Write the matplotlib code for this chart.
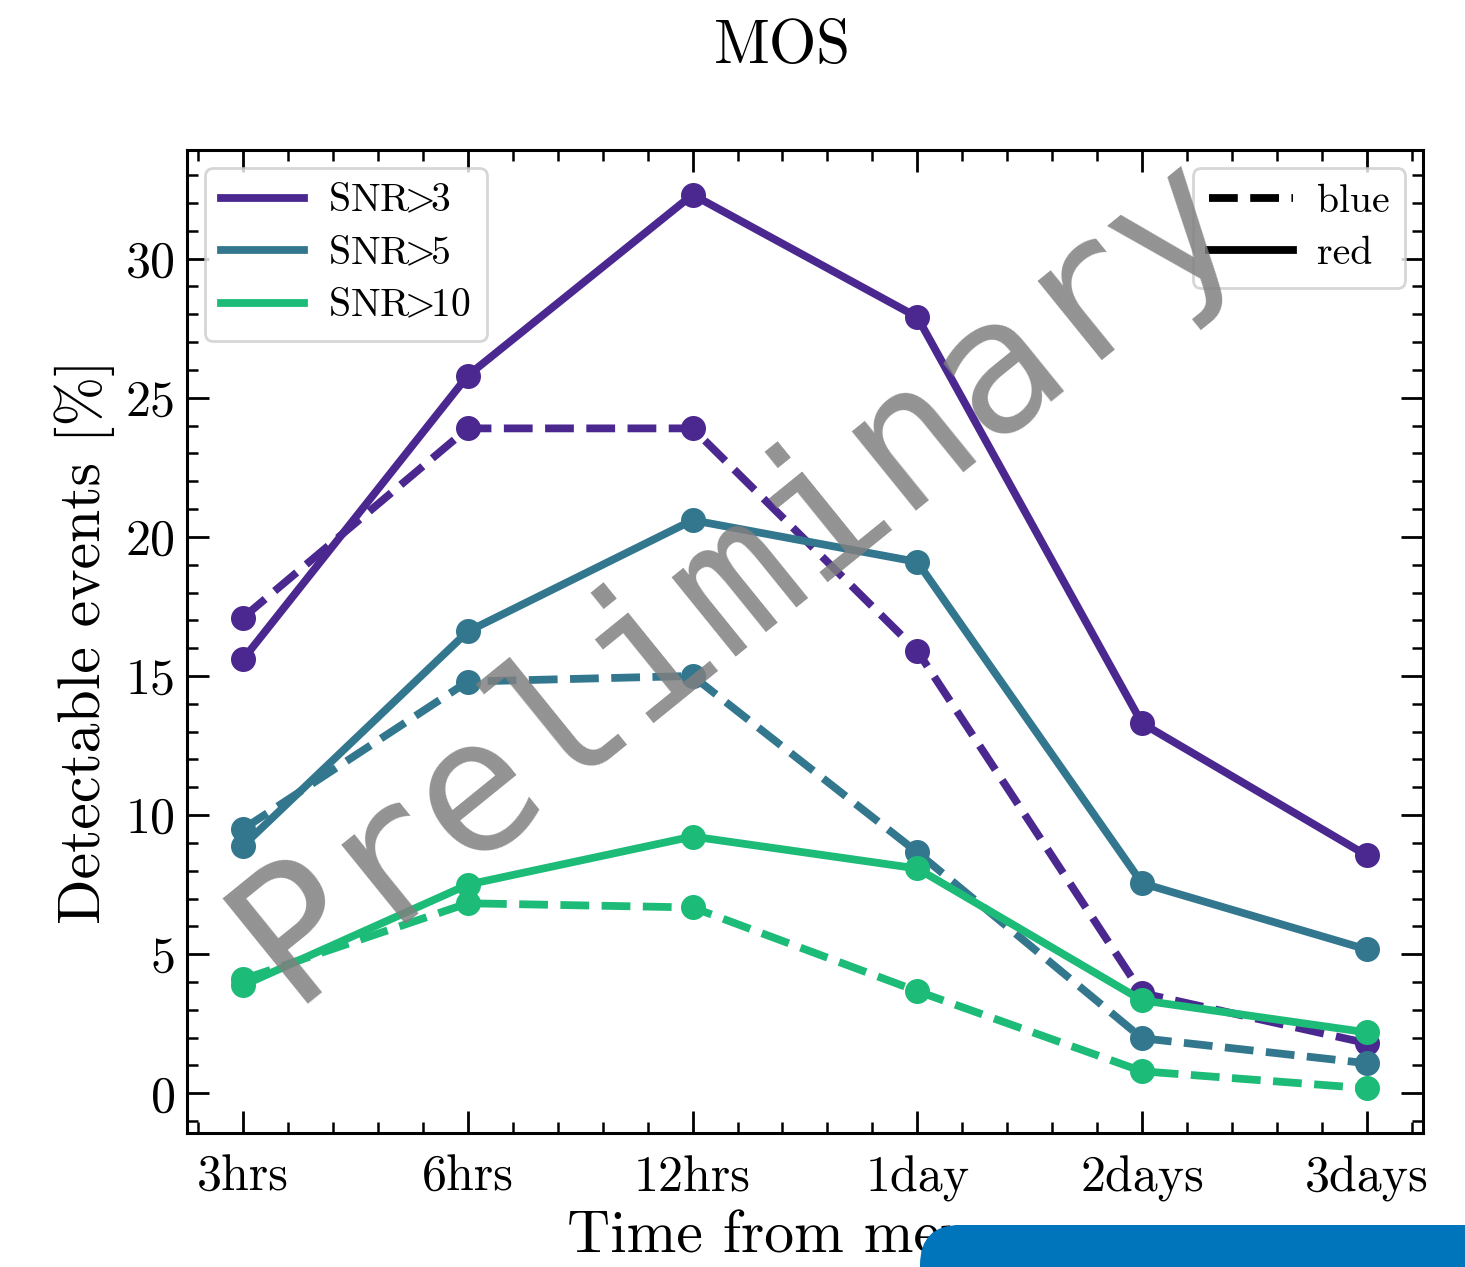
import numpy as np
import matplotlib
matplotlib.use("Agg")
import matplotlib.pyplot as plt
from matplotlib.ticker import MultipleLocator
from matplotlib.lines import Line2D
from matplotlib.patches import FancyBboxPatch

plt.rcParams['font.family'] = 'serif'
plt.rcParams['font.serif'] = ['cmr10']
plt.rcParams['mathtext.fontset'] = 'cm'
plt.rcParams['axes.unicode_minus'] = False

# --- data ---
times = ['3hrs', '6hrs', '12hrs', '1day', '2days', '3days']
snr_labels = [r'SNR$\!\!>\!\!$3', r'SNR$\!\!>\!\!$5', r'SNR$\!\!>\!\!$10']
colors = ['#4b2890', '#33778f', '#1dbb78']

red_snr3 = [15.6, 25.8, 32.3, 27.9, 13.3, 8.55]
red_snr5 = [8.9, 16.6, 20.6, 19.1, 7.55, 5.17]
red_snr10 = [3.88, 7.5, 9.23, 8.08, 3.34, 2.19]

blue_snr3 = [17.1, 23.9, 23.9, 15.9, 3.6, 1.8]
blue_snr5 = [9.5, 14.8, 15.0, 8.66, 1.98, 1.08]
blue_snr10 = [4.1, 6.83, 6.68, 3.67, 0.79, 0.18]

red = [red_snr3, red_snr5, red_snr10]
blue = [blue_snr3, blue_snr5, blue_snr10]

fig = plt.figure(figsize=(7.325, 6.335), dpi=200)
ax = fig.add_axes([0.1276, 0.1058, 0.8437, 0.7758])

x = np.arange(len(times))
lw = 2.8
ms = 8
for c, r, b in zip(colors, red, blue):
    ax.plot(x, b, '--', color=c, lw=lw, marker='o', ms=ms)
    ax.plot(x, r, '-', color=c, lw=lw, marker='o', ms=ms)

ax.set_xticks(x)
ax.set_xticklabels(times)
ax.xaxis.set_minor_locator(MultipleLocator(0.2))
ax.yaxis.set_major_locator(MultipleLocator(5))
ax.yaxis.set_minor_locator(MultipleLocator(1))
ax.tick_params(which='both', direction='in', top=True, right=True)
ax.tick_params(which='major', length=8, width=1, labelsize=18, pad=4)
ax.tick_params(axis='x', which='major', pad=8)
ax.tick_params(which='minor', length=4, width=0.9)
for s in ax.spines.values():
    s.set_linewidth(1.1)

ax.set_ylabel(r'Detectable events [%]', fontsize=21.5, labelpad=4)
ax.set_xlabel('Time from merger', fontsize=21.5, labelpad=3)
fig.text(0.534, 0.963, 'MOS', fontsize=22, ha='center', va='center')

# legends
snr_handles = [Line2D([], [], color=c, lw=lw) for c in colors]
leg1 = ax.legend(snr_handles, snr_labels, loc='upper left', fontsize=14.3,
                 handlelength=2.1, handletextpad=0.6, labelspacing=0.42,
                 borderaxespad=0.45)
ax.add_artist(leg1)
style_handles = [Line2D([], [], color='k', lw=lw, ls='--'),
                 Line2D([], [], color='k', lw=lw, ls='-')]
ax.legend(style_handles, ['blue', 'red'], loc='upper right', fontsize=14.3,
          handlelength=2.1, handletextpad=0.6, labelspacing=0.42,
          borderaxespad=0.45)

# watermark
fig.text(0.502, 0.545, 'Preliminary', fontsize=67, family='DejaVu Sans Mono',
         color='#808080', alpha=0.85, rotation=39, ha='center', va='center',
         zorder=10)

# blue overlay box at the bottom right
box = FancyBboxPatch((4.6, -0.3), 3.2, 0.51,
                     boxstyle='round,pad=0,rounding_size=0.2',
                     transform=fig.dpi_scale_trans, facecolor='#0075bb',
                     edgecolor='none', zorder=20)
fig.add_artist(box)

fig.savefig('out.png', dpi=200)
